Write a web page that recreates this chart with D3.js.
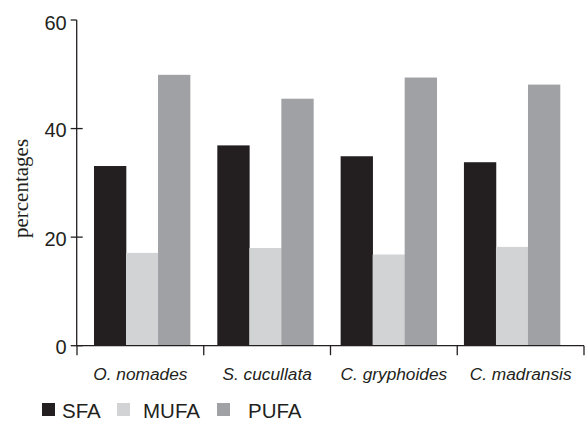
<!DOCTYPE html>
<html>
<head>
<meta charset="utf-8">
<script src="https://cdn.jsdelivr.net/npm/d3@7"></script>
<style>
  html, body { margin: 0; padding: 0; background: #fff; }
  svg { display: block; }
</style>
</head>
<body>
<svg id="chart" width="586" height="421"></svg>
<script>
const categories = ["O. nomades", "S. cucullata", "C. gryphoides", "C. madransis"];
const seriesNames = ["SFA", "MUFA", "PUFA"];
const sfaValues = [33.1, 36.9, 34.9, 33.8];
const mufaValues = [17.1, 18.0, 16.8, 18.2];
const pufaValues = [49.9, 45.5, 49.4, 48.1];
const yTicks = [0, 20, 40, 60];
const seriesColors = ["#231f20", "#d1d3d4", "#a0a1a5"];

const seriesValues = [sfaValues, mufaValues, pufaValues];
const rows = categories.map((c, i) => ({
  category: c,
  values: seriesNames.map((s, j) => ({ series: s, value: seriesValues[j][i] }))
}));

const svg = d3.select("#chart");
const ink = "#231f20";

const y = d3.scaleLinear().domain([0, 60]).range([345.7, 20]);
const xAxisScale = d3.scaleBand().domain(categories).range([77, 584]);
const xGroup = d3.scaleBand().domain(categories).range([94, 560]).paddingInner(0.221).paddingOuter(0);
const xInner = d3.scaleBand().domain(seriesNames).range([0, xGroup.bandwidth()]);
const color = d3.scaleOrdinal().domain(seriesNames).range(seriesColors);

// bars
const groups = svg.append("g").selectAll("g").data(rows).join("g")
  .attr("transform", d => `translate(${xGroup(d.category)},0)`);
groups.selectAll("rect").data(d => d.values).join("rect")
  .attr("x", d => xInner(d.series))
  .attr("width", xInner.bandwidth() + 0.3)
  .attr("y", d => y(d.value))
  .attr("height", d => y(0) - y(d.value))
  .attr("fill", d => color(d.series));

// y axis
const yAxisG = svg.append("g").attr("transform", `translate(76.7,0)`);
yAxisG.append("line").attr("x1", 0).attr("x2", 0).attr("y1", y(60)).attr("y2", y(0))
  .attr("stroke", ink).attr("stroke-width", 1.3);
yAxisG.selectAll("line.tick").data(yTicks).join("line").attr("class", "tick")
  .attr("x1", -6).attr("x2", d => d === 60 ? 0 : 6)
  .attr("y1", d => y(d)).attr("y2", d => y(d))
  .attr("stroke", ink).attr("stroke-width", 1.3);
yAxisG.selectAll("text").data(yTicks).join("text")
  .attr("x", -10).attr("y", d => y(d) + (d === 60 ? 3 : 1.5))
  .attr("dy", "0.35em")
  .attr("text-anchor", "end")
  .attr("font-family", "Liberation Sans, Arial, sans-serif")
  .attr("font-size", 20)
  .attr("fill", ink)
  .text(d => d);

// x axis
const xAxisG = svg.append("g");
xAxisG.append("line").attr("x1", 76.7).attr("x2", 584).attr("y1", y(0)).attr("y2", y(0))
  .attr("stroke", ink).attr("stroke-width", 1.3);
const boundaries = categories.map(c => xAxisScale(c)).concat([xAxisScale.range()[1]]);
xAxisG.selectAll("line.tick").data(boundaries).join("line").attr("class", "tick")
  .attr("x1", d => d).attr("x2", d => d)
  .attr("y1", y(0)).attr("y2", y(0) + 9.5)
  .attr("stroke", ink).attr("stroke-width", 1.3);
xAxisG.selectAll("text").data(categories).join("text")
  .attr("x", d => xAxisScale(d) + xAxisScale.bandwidth() / 2)
  .attr("y", 380)
  .attr("text-anchor", "middle")
  .attr("font-family", "Liberation Sans, Arial, sans-serif")
  .attr("font-style", "italic")
  .attr("font-size", 17.3)
  .attr("fill", ink)
  .text(d => d);

// y label
svg.append("text")
  .attr("transform", "translate(28,188.5) rotate(-90)")
  .attr("text-anchor", "middle")
  .attr("font-family", "Liberation Serif, Times New Roman, serif")
  .attr("font-size", 21)
  .attr("fill", ink)
  .text("percentages");

// legend
const legendX = [42, 117, 217];
const legendTextX = [62, 143, 248];
const legend = svg.append("g");
legend.selectAll("rect").data(seriesNames).join("rect")
  .attr("x", (d, i) => legendX[i]).attr("y", 403)
  .attr("width", 13).attr("height", 13)
  .attr("fill", d => color(d));
legend.selectAll("text").data(seriesNames).join("text")
  .attr("x", (d, i) => legendTextX[i]).attr("y", 418)
  .attr("font-family", "Liberation Sans, Arial, sans-serif")
  .attr("font-size", 20.5)
  .attr("fill", ink)
  .text(d => d);
</script>
</body>
</html>
